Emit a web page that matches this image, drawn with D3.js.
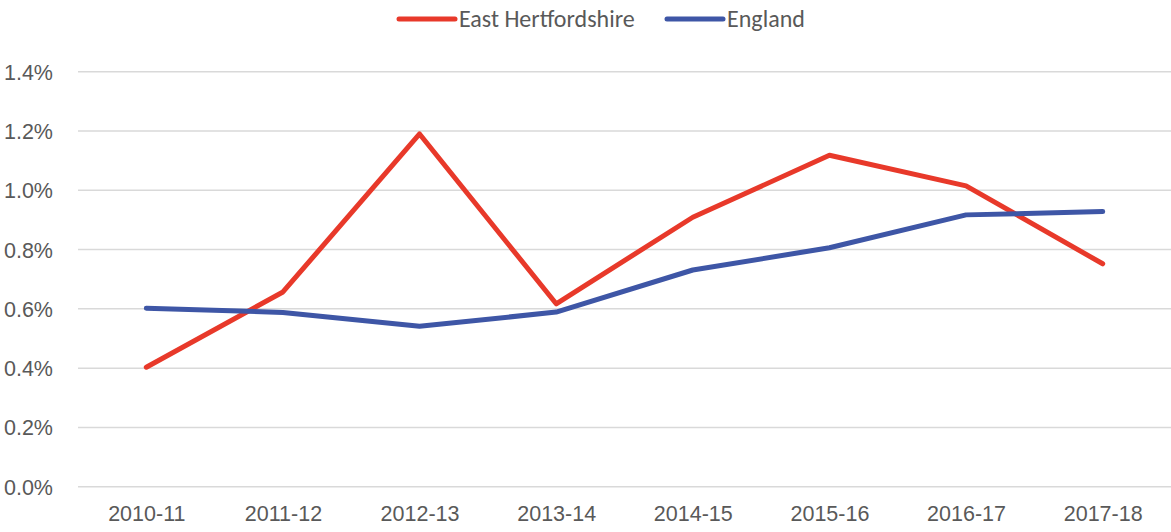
<!DOCTYPE html>
<html>
<head>
<meta charset="utf-8">
<script src="https://cdn.jsdelivr.net/npm/d3@7"></script>
<style>
  body { margin: 0; background: #fff; }
  svg { font-family: Carlito, Calibri, "Open Sans", sans-serif; }
  .axis text { fill: #595959; font-size: 21.5px; }
</style>
</head>
<body>
<div id="chart"></div>
<script>
const years = ["2010-11","2011-12","2012-13","2013-14","2014-15","2015-16","2016-17","2017-18"];
const east_herts = [0.403, 0.657, 1.19, 0.617, 0.909, 1.118, 1.015, 0.752];
const england = [0.602, 0.588, 0.541, 0.589, 0.731, 0.806, 0.917, 0.928];
const y_ticks = [0, 0.2, 0.4, 0.6, 0.8, 1.0, 1.2, 1.4];
const series_names = ["East Hertfordshire", "England"];
const series_colors = ["#e8392a", "#3e56a6"];

const width = 1171, height = 532;
const plot_left = 78, plot_right = 1171, plot_top = 71.7, plot_bottom = 486.7;

const svg = d3.select("#chart").append("svg")
    .attr("width", width)
    .attr("height", height);

const x_scale = d3.scalePoint()
    .domain(years)
    .range([plot_left, plot_right])
    .padding(0.5);

const y_scale = d3.scaleLinear()
    .domain([0, 1.4])
    .range([plot_bottom, plot_top]);

// gridlines
svg.append("g")
    .selectAll("line")
    .data(y_ticks)
    .join("line")
    .attr("x1", plot_left)
    .attr("x2", plot_right)
    .attr("y1", d => y_scale(d))
    .attr("y2", d => y_scale(d))
    .attr("stroke", "#d9d9d9")
    .attr("stroke-width", 1.5);

// y axis labels
const gY = svg.append("g")
    .attr("class", "axis")
    .attr("transform", `translate(${plot_left - 22},0)`)
    .call(d3.axisLeft(y_scale).tickValues(y_ticks).tickFormat(d => d.toFixed(1) + "%").tickSize(0));
gY.select(".domain").remove();
gY.selectAll("text").attr("dy", "0.35em");

// x axis labels
const gX = svg.append("g")
    .attr("class", "axis")
    .attr("transform", `translate(0,${plot_bottom + 16})`)
    .call(d3.axisBottom(x_scale).tickSize(0));
gX.select(".domain").remove();
gX.selectAll("text").attr("dy", "0.71em");

const line = d3.line()
    .x((d, i) => x_scale(years[i]))
    .y(d => y_scale(d));

[east_herts, england].forEach((vals, k) => {
    svg.append("path")
        .attr("d", line(vals))
        .attr("fill", "none")
        .attr("stroke", series_colors[k])
        .attr("stroke-width", 5)
        .attr("stroke-linejoin", "round")
        .attr("stroke-linecap", "round");
});

// legend
const legend_x = [399, 667];
series_names.forEach((name, k) => {
    const g = svg.append("g").attr("transform", `translate(${legend_x[k]},19)`);
    g.append("line")
        .attr("x1", 0).attr("x2", 56)
        .attr("y1", 0).attr("y2", 0)
        .attr("stroke", series_colors[k])
        .attr("stroke-width", 5)
        .attr("stroke-linecap", "round");
    g.append("text")
        .attr("x", 60)
        .attr("dy", "0.35em")
        .attr("fill", "#595959")
        .attr("font-size", "24px")
        .text(name);
});
</script>
</body>
</html>
